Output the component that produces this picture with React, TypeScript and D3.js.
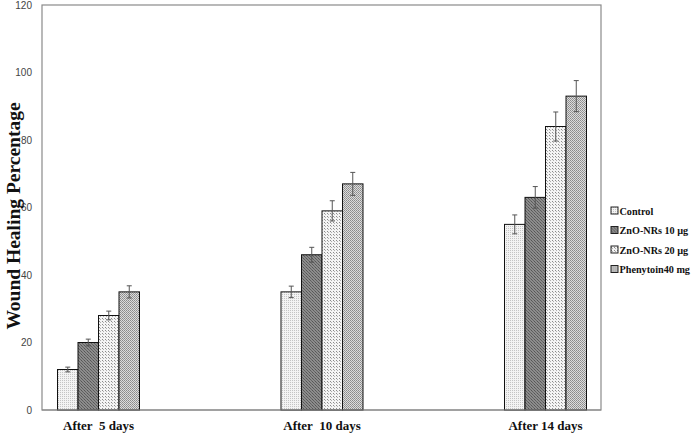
import React from "react";
import * as d3 from "d3";

const categories = ["After  5 days", "After  10 days", "After 14 days"];
const seriesNames = ["Control", "ZnO-NRs 10 µg", "ZnO-NRs 20 µg", "Phenytoin40 mg"];
const control = [12, 35, 55];
const zno10 = [20, 46, 63];
const zno20 = [28, 59, 84];
const phenytoin = [35, 67, 93];
const controlErr = [0.7, 1.7, 2.8];
const zno10Err = [1.0, 2.2, 3.2];
const zno20Err = [1.3, 3.0, 4.3];
const phenytoinErr = [1.8, 3.4, 4.6];
const yTicks = [0, 20, 40, 60, 80, 100, 120];

const values = [control, zno10, zno20, phenytoin];
const errs = [controlErr, zno10Err, zno20Err, phenytoinErr];
const patternIds = ["pCtrl", "pZ10", "pZ20", "pPhen"];

const W = 692;
const H = 437;
const plotLeft = 42;
const plotRight = 601;
const plotTop = 5;
const plotBottom = 410;

export default function App() {
  const y = d3.scaleLinear().domain([0, 120]).range([plotBottom, plotTop]);
  const xGroup = d3.scalePoint<string>().domain(categories).range([98.5, 545.5]);
  const inner = d3.scaleBand<number>().domain([0, 1, 2, 3]).range([-41, 41]).padding(0);
  const serif = "'Liberation Serif', 'Times New Roman', serif";

  return (
    <div style={{ position: "absolute", left: 0, top: 0 }}>
      <svg width={W} height={H} style={{ display: "block", background: "#fff" }}>
        <defs>
          <pattern id="pCtrl" width="2" height="2" patternUnits="userSpaceOnUse">
            <rect width="2" height="2" fill="#f3f3f3" />
            <rect x="0" y="0" width="1" height="1" fill="#c4c4c4" />
          </pattern>
          <pattern id="pZ10" width="3" height="3" patternUnits="userSpaceOnUse">
            <rect width="3" height="3" fill="#8c8c8c" />
            <rect x="0" y="0" width="1" height="1" fill="#555" />
            <rect x="1" y="1" width="1" height="1" fill="#5e5e5e" />
            <rect x="2" y="2" width="1" height="1" fill="#666" />
          </pattern>
          <pattern id="pZ20" width="3" height="3" patternUnits="userSpaceOnUse">
            <rect width="3" height="3" fill="#f4f4f4" />
            <rect x="0" y="0" width="1" height="1" fill="#8a8a8a" />
            <rect x="1" y="1" width="1" height="1" fill="#b0b0b0" />
          </pattern>
          <pattern id="pPhen" width="2" height="2" patternUnits="userSpaceOnUse">
            <rect width="2" height="2" fill="#dcdcdc" />
            <rect x="0" y="0" width="1" height="1" fill="#8a8a8a" />
            <rect x="1" y="1" width="1" height="1" fill="#9a9a9a" />
          </pattern>
        </defs>

        {/* frame */}
        <rect x={plotLeft} y={plotTop} width={plotRight - plotLeft} height={plotBottom - plotTop}
          fill="none" stroke="#8a8a8a" strokeWidth={1.2} />

        {/* y tick labels */}
        {yTicks.map((t) => (
          <text key={t} x={32} y={y(t)} dy="0.35em" textAnchor="end"
            fontFamily="'Liberation Sans', Arial, sans-serif" fontSize={10} fill="#444">
            {t}
          </text>
        ))}

        {/* bars */}
        {categories.map((c, ci) => (
          <g key={c}>
            {values.map((vals, si) => {
              const x0 = (xGroup(c) as number) + (inner(si) as number);
              const bw = inner.bandwidth();
              const v = vals[ci];
              const e = errs[si][ci];
              const cx = x0 + bw / 2;
              return (
                <g key={si}>
                  <rect x={x0} y={y(v)} width={bw} height={y(0) - y(v)}
                    fill={`url(#${patternIds[si]})`} stroke="#111" strokeWidth={1} />
                  <line x1={cx} x2={cx} y1={y(v - e)} y2={y(v + e)} stroke="#555" strokeWidth={1} />
                  <line x1={cx - 2.5} x2={cx + 2.5} y1={y(v + e)} y2={y(v + e)} stroke="#555" strokeWidth={1} />
                  <line x1={cx - 2.5} x2={cx + 2.5} y1={y(v - e)} y2={y(v - e)} stroke="#555" strokeWidth={1} />
                </g>
              );
            })}
          </g>
        ))}

        {/* bottom axis line */}
        <line x1={plotLeft} x2={plotRight} y1={plotBottom} y2={plotBottom} stroke="#8a8a8a" strokeWidth={1.2} />

        {/* category labels */}
        {categories.map((c) => (
          <text key={c} x={xGroup(c) as number} y={430} textAnchor="middle"
            fontFamily={serif} fontWeight="bold" fontSize={13} fill="#111" style={{ whiteSpace: "pre" }}>
            {c}
          </text>
        ))}

        {/* y axis title */}
        <text transform={`translate(20,${216}) rotate(-90)`} textAnchor="middle"
          fontFamily={serif} fontWeight="bold" fontSize={19.5} fill="#111">
          Wound Healing Percentage
        </text>

        {/* legend */}
        {seriesNames.map((s, i) => (
          <g key={s} transform={`translate(611,${211 + i * 19.5})`}>
            <rect x={0} y={-4} width={7} height={7} fill={`url(#${patternIds[i]})`} stroke="#222" strokeWidth={1} />
            <text x={8.5} y={0} dy="0.35em" fontFamily={serif} fontWeight="bold" fontSize={10.2} fill="#111">
              {s}
            </text>
          </g>
        ))}
      </svg>
    </div>
  );
}
